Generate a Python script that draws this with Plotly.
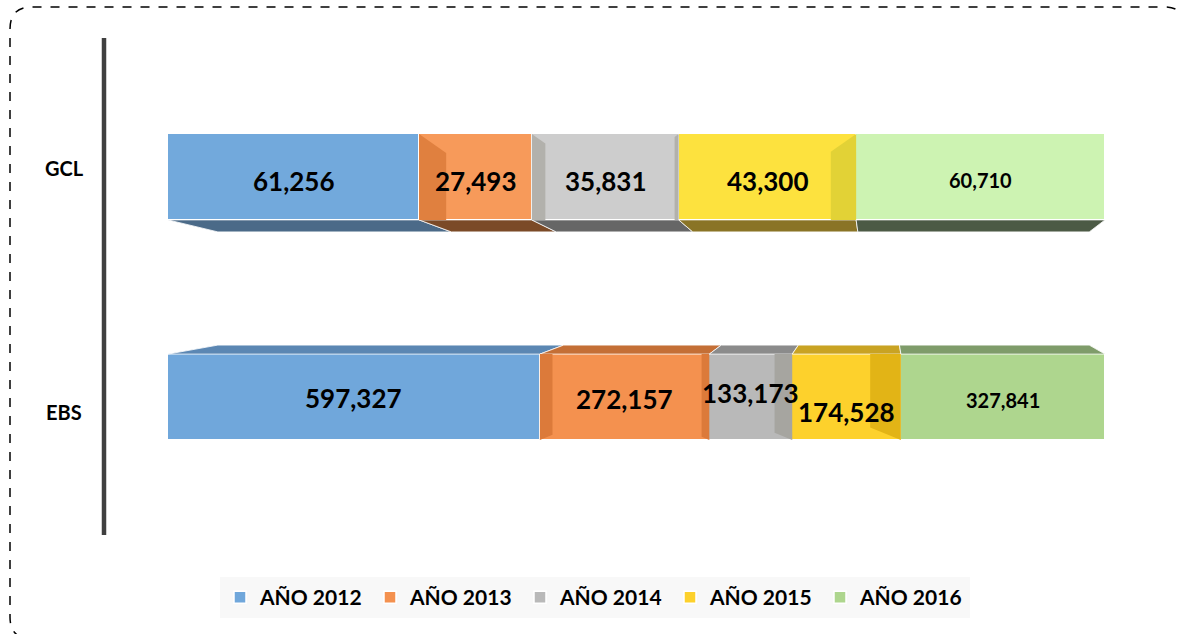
import plotly.graph_objects as go

# ---------------- data ----------------
categories = ["EBS", "GCL"]          # bottom -> top
series_names = ["AÑO 2012", "AÑO 2013", "AÑO 2014", "AÑO 2015", "AÑO 2016"]
v2012 = [597327, 61256]
v2013 = [272157, 27493]
v2014 = [133173, 35831]
v2015 = [174528, 43300]
v2016 = [327841, 60710]
series_values = [v2012, v2013, v2014, v2015, v2016]

# ---------------- styles ----------------
FONT = "Lato, 'Open Sans', Arial, sans-serif"
front_colors = [            # [EBS, GCL] per series
    ["#70a7db", "#72a9dc"],
    ["#f4914f", "#f79a5a"],
    ["#b9b9b9", "#cdcdcd"],
    ["#fdd12c", "#fde23e"],
    ["#aed68e", "#cdf3b2"],
]
top_face_colors = ["#5b87b3", "#c46f36", "#8b8b8b", "#c9a323", "#7f9c6a"]   # EBS top faces
bottom_face_colors = ["#4b6a88", "#7b4a27", "#666666", "#8a7426", "#4c5a45"]  # GCL bottom faces
side_face_colors = [        # [EBS, GCL] per series
    ["#5e8fbf", "#5e8fbf"],
    ["#dc7a3a", "#e0803f"],
    ["#a6a5a0", "#b2b1ac"],
    ["#e2b416", "#e2d236"],
    ["#93b877", "#b3d99a"],
]
label_sizes = [26, 26, 26, 26, 20]
label_shift = {  # small vertical offsets of value labels (pixels)
    0: [-1, -2, 4, -15, -3],
    1: [-4, -4, -4, -4, -3],
}

BAR_W = 0.39
ypos = list(range(len(categories)))

fig = go.Figure()
for i, (name, vals) in enumerate(zip(series_names, series_values)):
    fig.add_trace(go.Bar(
        y=ypos, x=vals, orientation="h", name=name, width=BAR_W,
        marker=dict(color=front_colors[i], line=dict(color="white", width=1.5)),
        hovertemplate="%{x}<extra>" + name + "</extra>",
    ))

# percent positions for labels and 3D faces
totals = [sum(s[c] for s in series_values) for c in range(len(categories))]
annotations = []
shapes = []
VPD, K = 76.0, 0.93          # perspective for top/bottom faces
SVP, S = 50.9, 0.12          # perspective for inner side faces
f = lambda xd: VPD + (xd - VPD) * K
PX_PER_Y = 220.0
PX_PER_X = 9.37
n = len(series_values)
for c in range(len(categories)):
    cum = 0.0
    gcl = categories[c] == "GCL"
    ytop = ypos[c] + BAR_W / 2
    ybot = ypos[c] - BAR_W / 2
    for i, vals in enumerate(series_values):
        pct = vals[c] / totals[c] * 100.0
        x0, x1 = cum, cum + pct
        cum = x1
        # top / bottom face
        if gcl:
            yf, yb, col = ybot, ybot - 12 / PX_PER_Y, bottom_face_colors[i]
        else:
            yf, yb, col = ytop, ytop + 9 / PX_PER_Y, top_face_colors[i]
        path = f"M {x0},{yf} L {x1},{yf} L {f(x1)},{yb} L {f(x0)},{yb} Z"
        shapes.append(dict(type="path", xref="x", yref="y", path=path,
                           fillcolor=col, line=dict(color="white", width=0.8), layer="above"))
        # inner side faces
        sides = []
        if i > 0 and x0 < SVP:
            sides.append((x0, (SVP - x0) * S))
        if i < n - 1 and x1 > SVP:
            sides.append((x1, -(x1 - SVP) * S))
        for xe, w in sides:
            xi = xe + w
            wpx = abs(w) * PX_PER_X
            if gcl:
                dy = 0.7 * wpx / PX_PER_Y
                p = f"M {xe},{ytop} L {xi},{ytop - dy} L {xi},{ybot} L {xe},{ybot} Z"
            else:
                dy = 0.4 * wpx / PX_PER_Y
                p = f"M {xe},{ytop} L {xi},{ytop} L {xi},{ybot + dy} L {xe},{ybot} Z"
            shapes.append(dict(type="path", xref="x", yref="y", path=p,
                               fillcolor=side_face_colors[i][c], line=dict(width=0), layer="above"))

    cum = 0.0
    for i, vals in enumerate(series_values):
        pct = vals[c] / totals[c] * 100.0
        annotations.append(dict(
            x=cum + pct / 2, y=ypos[c], xref="x", yref="y", showarrow=False,
            text=f"{vals[c]:,}", yshift=label_shift[c][i],
            font=dict(family=FONT, size=label_sizes[i], color="black", weight="bold"),
        ))
        cum += pct

# pixel -> paper helpers (plot area 168..1105 x 67..507)
L, R, T, B = 168, 1105, 67, 507
X = lambda p: (p - L) / (R - L)
Y = lambda p: (B - p) / (B - T)

# category labels
for c, cat in enumerate(categories):
    annotations.append(dict(
        x=X(64), y=ypos[c], xref="paper", yref="y", showarrow=False, xanchor="center",
        text=cat, yshift=(9 if cat == "GCL" else -15),
        font=dict(family=FONT, size=20, color="black", weight="bold"),
    ))

# vertical axis line
shapes.append(dict(type="line", xref="paper", yref="paper",
                   x0=X(104), x1=X(104), y0=Y(38), y1=Y(535),
                   line=dict(color="#404040", width=4.5)))

# dashed rounded outer border
r = 22
bx0, by0, bx1, by1 = 10, 7, 1186, 639
border = (f"M {X(bx0)},{Y(by0 + r)} Q {X(bx0)},{Y(by0)} {X(bx0 + r)},{Y(by0)} "
          f"L {X(bx1 - r)},{Y(by0)} Q {X(bx1)},{Y(by0)} {X(bx1)},{Y(by0 + r)} "
          f"L {X(bx1)},{Y(by1 - r)} Q {X(bx1)},{Y(by1)} {X(bx1 - r)},{Y(by1)} "
          f"L {X(bx0 + r)},{Y(by1)} Q {X(bx0)},{Y(by1)} {X(bx0)},{Y(by1 - r)} Z")
shapes.append(dict(type="path", xref="paper", yref="paper", path=border,
                   line=dict(color="black", width=1.5, dash="dash"), layer="below"))

fig.update_layout(
    width=1179, height=634,
    margin=dict(l=L, r=1179 - R, t=T, b=634 - B, pad=0),
    barmode="stack", barnorm="percent", bargap=0,
    paper_bgcolor="white", plot_bgcolor="white",
    xaxis=dict(range=[0, 100], visible=False, fixedrange=True),
    yaxis=dict(range=[-0.5, 1.5], visible=False, fixedrange=True),
    showlegend=True,
    legend=dict(
        orientation="h", x=X(595), y=Y(577), xanchor="center", yanchor="top",
        bgcolor="#f8f8f8", borderwidth=0, traceorder="normal",
        entrywidth=105, entrywidthmode="pixels",
        font=dict(family=FONT, size=21, color="black", weight="bold"),
        itemclick=False, itemdoubleclick=False,
    ),
    annotations=annotations,
    shapes=shapes,
    font=dict(family=FONT),
)

fig.write_html(
    "out.html",
    config={"displayModeBar": False},
    post_script="document.body.style.margin='0';document.body.style.overflow='hidden';",
)
